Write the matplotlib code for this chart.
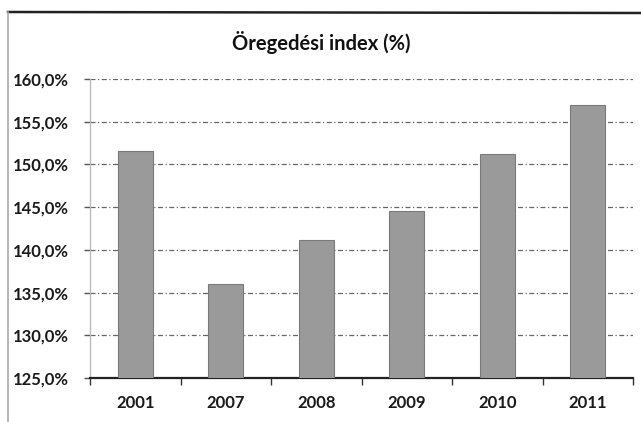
import matplotlib
matplotlib.use("Agg")
import matplotlib.pyplot as plt
from matplotlib.lines import Line2D
from matplotlib.ticker import FuncFormatter, FixedLocator

years = ["2001", "2007", "2008", "2009", "2010", "2011"]
values = [151.6, 136.0, 141.1, 144.5, 151.2, 157.0]
y_ticks = [125, 130, 135, 140, 145, 150, 155, 160]

plt.rcParams['font.family'] = ['Lato', 'DejaVu Sans']

fig = plt.figure(figsize=(6.41, 4.22), dpi=100)
fig.patch.set_facecolor("white")
ax = fig.add_axes([90/641, 44/422, 543/641, 299/422])

x = list(range(len(years)))
ax.bar(x, values, width=0.39, bottom=0, color="#9a9a9a", edgecolor="#7a7a7a",
       linewidth=0.8, zorder=3)

ax.set_ylim(125, 160)
ax.set_xlim(-0.5, len(years) - 0.5)
ax.yaxis.set_major_locator(FixedLocator(y_ticks))
ax.yaxis.set_major_formatter(FuncFormatter(lambda v, p: f"{v:.1f}%".replace(".", ",")))
ax.set_xticks(x)
ax.set_xticklabels(years)
ax.xaxis.set_minor_locator(FixedLocator([i - 0.5 for i in range(len(years) + 1)]))
ax.tick_params(axis="x", which="major", length=0, pad=12, labelsize=12)
ax.tick_params(axis="x", which="minor", length=5, width=1.0, color="#333333", direction="out")
ax.tick_params(axis="y", length=4, width=1.0, color="#555555", pad=11, labelsize=12)
for lab in ax.get_xticklabels() + ax.get_yticklabels():
    lab.set_fontweight("bold")
    lab.set_color("#1a1a1a")

ax.grid(axis="y", color="#666666", linestyle=(0, (4, 2, 1, 2)), linewidth=0.9, zorder=0)
ax.set_axisbelow(True)
for s in ["top", "right"]:
    ax.spines[s].set_visible(False)
ax.spines["left"].set_color("#bbbbbb")
ax.spines["left"].set_linewidth(1.0)
ax.spines["bottom"].set_color("#222222")
ax.spines["bottom"].set_linewidth(1.6)

fig.text(321/641, 1 - 42/422, "Öregedési index (%)", ha="center", va="center",
         fontsize=14.5, fontweight="bold", color="#111111")

# chart frame (top and left edges)
fig.add_artist(Line2D([8/641, 1.0], [1 - 12/422, 1 - 13/422], transform=fig.transFigure,
                      color="#222222", linewidth=1.8))
fig.add_artist(Line2D([8/641, 8/641], [1 - 12/422, 0.0], transform=fig.transFigure,
                      color="#aaaaaa", linewidth=1.2))

fig.savefig("out.png", dpi=100, facecolor="white")
